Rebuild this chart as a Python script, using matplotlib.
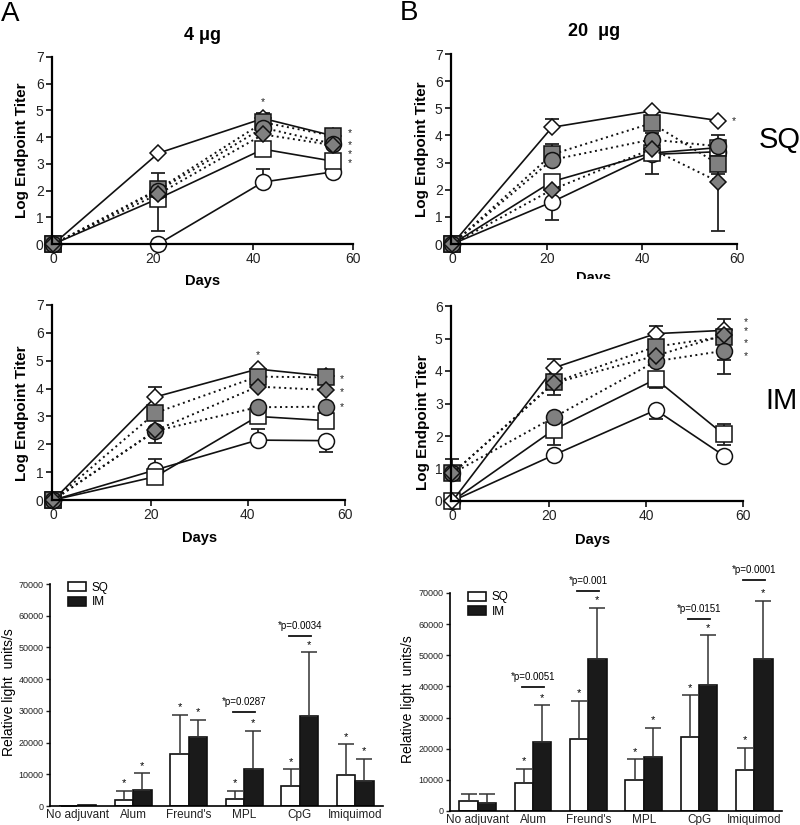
import matplotlib.pyplot as plt
from matplotlib.patches import Rectangle, Patch

plt.rcParams['font.family'] = ['Liberation Sans', 'DejaVu Sans']

# ---- data: log endpoint titers -------------------------------------------
days = [0, 21, 42, 56]
# series order: open circle, open square, open diamond,
#               gray square, gray circle, gray diamond
titer_4_sq = [
    [0, 0.0, 2.32, 2.7],
    [0, 1.7, 3.55, 3.1],
    [0, 3.4, 4.7, 4.05],
    [0, 2.05, 4.55, 4.05],
    [0, 2.0, 4.35, 3.75],
    [0, 1.87, 4.1, 3.7],
]
titer_4_im = [
    [0, 1.08, 2.15, 2.13],
    [0, 0.84, 3.0, 2.85],
    [0, 3.7, 4.7, 4.45],
    [0, 3.13, 4.43, 4.4],
    [0, 2.48, 3.33, 3.35],
    [0, 2.5, 4.07, 3.95],
]
titer_20_sq = [
    [0, 1.55, 3.3, 3.4],
    [0, 2.3, 3.35, 3.55],
    [0, 4.3, 4.9, 4.55],
    [0, 3.3, 4.45, 2.95],
    [0, 3.1, 3.85, 3.6],
    [0, 2.0, 3.5, 2.3],
]
titer_20_im = [
    [0, 1.42, 2.8, 1.4],
    [0, 2.2, 3.75, 2.05],
    [0, 4.1, 5.15, 5.25],
    [0.85, 3.65, 4.75, 5.05],
    [0.85, 2.58, 4.3, 4.62],
    [0.85, 3.63, 4.47, 5.1],
]
# error bar ends: (series, day index, end value)
err_4_sq = [(3, 1, 2.65), (3, 1, 0.47), (3, 2, 4.92), (0, 2, 2.8)]
err_4_im = [(2, 1, 4.04), (4, 1, 2.06), (0, 1, 1.46), (0, 2, 2.54), (0, 3, 1.73)]
err_20_sq = [(2, 1, 4.62), (3, 1, 3.7), (0, 1, 0.88), (4, 2, 4.1), (0, 2, 2.58),
             (4, 3, 4.03), (5, 3, 0.48), (3, 3, 2.58)]
err_20_im = [(3, 0, 1.3), (2, 1, 4.38), (3, 1, 3.25), (4, 1, 1.72), (2, 2, 5.4),
             (1, 2, 3.49), (0, 2, 2.51), (2, 3, 5.59), (4, 3, 3.92), (5, 3, 4.33),
             (1, 3, 2.37), (1, 3, 1.72)]
# significance stars (day, value)
stars_4_sq = [(42, 5.3), (59.3, 4.16), (59.3, 3.71), (59.3, 3.38), (59.3, 3.04)]
stars_4_im = [(42, 5.2), (59.3, 4.34), (59.3, 3.86), (59.3, 3.33)]
stars_20_sq = [(59.3, 4.52)]
stars_20_im = [(60.5, 5.5), (60.5, 5.22), (60.5, 4.87), (60.5, 4.46)]

# ---- data: relative light units -------------------------------------------
categories = ["No adjuvant", "Alum", "Freund's", "MPL", "CpG", "Imiquimod"]
rlu_4_sq = [0, 2000, 16400, 2300, 6200, 9700]
rlu_4_sq_sd = [0, 2700, 12400, 2400, 5400, 9700]
rlu_4_im = [300, 5100, 21700, 11700, 28400, 7800]
rlu_4_im_sd = [0, 5200, 5500, 12100, 20100, 7000]
rlu_20_sq = [3200, 8900, 23000, 10000, 23800, 13100]
rlu_20_sq_sd = [2200, 4700, 12300, 6600, 13400, 7200]
rlu_20_im = [2600, 22000, 48900, 17300, 40300, 48900]
rlu_20_im_sd = [3000, 11900, 16300, 9400, 16100, 18600]
pvals_4 = [(3, "*p=0.0287", 29500), (4, "*p=0.0034", 53700)]
pvals_20 = [(1, "*p=0.0051", 39900), (2, "*p=0.001", 70500),
            (4, "*p=0.0151", 61700), (5, "*p=0.0001", 74300)]
stars_bar_4 = [1, 2, 3, 4, 5]
stars_bar_20 = [1, 2, 3, 4, 5]

GRAY = '#808080'
styles = [
    dict(marker='o', mfc='white', ms=11.5, ls='-'),
    dict(marker='s', mfc='white', ms=11.5, ls='-'),
    dict(marker='D', mfc='white', ms=8, ls='-'),
    dict(marker='s', mfc=GRAY, ms=11.5, ls=':'),
    dict(marker='o', mfc=GRAY, ms=11.5, ls=':'),
    dict(marker='D', mfc=GRAY, ms=8, ls=':'),
]

W, H = 800, 825
def box(l, t, r, b):
    return [l / W, 1 - b / H, (r - l) / W, (b - t) / H]

fig = plt.figure(figsize=(8, 8.25), dpi=100)


def line_panel(rect, data, errs, stars, ymax):
    ax = fig.add_axes(box(*rect))
    for s, e, end in errs:
        y = data[s][e]
        lo, hi = (y - end, 0) if end < y else (0, end - y)
        ax.errorbar([days[e]], [y], yerr=[[lo], [hi]], fmt='none', ecolor='#222',
                    elinewidth=1.3, capsize=5, capthick=1.3, clip_on=False)
    for vals, st in zip(data, styles):
        if st['ls'] == ':':
            ln, = ax.plot(days, vals, color='#111', lw=1.4, ls=(0, (1, 1.8)))
        else:
            ln, = ax.plot(days, vals, color='#111', lw=1.2, ls='-')
        ln.set_clip_on(False)
        ax.plot(days, vals, ls='none', marker=st['marker'], ms=st['ms'],
                mfc=st['mfc'], mec='#111', mew=1.1, clip_on=False)
    for x, y in stars:
        ax.text(x, y, '*', ha='center', va='center', fontsize=7.5, color='#222')
    ax.set_xlim(-0.3, 60)
    ax.set_ylim(0, ymax)
    ax.set_xticks([0, 20, 40, 60])
    ax.set_yticks(range(ymax + 1))
    for sp in ['top', 'right']:
        ax.spines[sp].set_visible(False)
    for sp in ['left', 'bottom']:
        ax.spines[sp].set_linewidth(1.6)
    ax.tick_params(labelsize=10, length=4, width=1.3, pad=2, colors='#222')
    return ax


line_panel((52, 57, 353, 244), titer_4_sq, err_4_sq, stars_4_sq, 7)
line_panel((52, 305, 345, 500), titer_4_im, err_4_im, stars_4_im, 7)
line_panel((451, 54, 737, 244), titer_20_sq, err_20_sq, stars_20_sq, 7)
line_panel((451, 306, 743, 501), titer_20_im, err_20_im, stars_20_im, 6)


def bar_panel(rect, sq, sq_sd, im, im_sd, pvals, star_idx):
    ax = fig.add_axes(box(*rect))
    x = list(range(len(categories)))
    w = 0.33
    xs = [i - w / 2 for i in x]
    xi = [i + w / 2 for i in x]
    ax.bar(xs, sq, w, color='white', edgecolor='#111', lw=1.2, label='SQ')
    ax.bar(xi, im, w, color='#1a1a1a', edgecolor='#111', lw=1.2, label='IM')
    ax.errorbar(xs, sq, yerr=[[0] * len(sq), sq_sd], fmt='none', ecolor='#333',
                elinewidth=1.1, capsize=6, capthick=1.1)
    ax.errorbar(xi, im, yerr=[[0] * len(im), im_sd], fmt='none', ecolor='#333',
                elinewidth=1.1, capsize=6, capthick=1.1)
    for i in star_idx:
        ax.text(xs[i], sq[i] + sq_sd[i] + 800, '*', ha='center', va='bottom', fontsize=8)
        ax.text(xi[i], im[i] + im_sd[i] + 800, '*', ha='center', va='bottom', fontsize=8)
    for i, txt, y in pvals:
        ax.plot([i - 0.2, i + 0.2], [y, y], color='#111', lw=1.3, clip_on=False)
        ax.text(i, y + 1600, txt, ha='center', va='bottom', fontsize=7, clip_on=False)
    ax.set_xlim(-0.5, 5.5)
    ax.set_ylim(0, 70000)
    ax.set_yticks(range(0, 70001, 10000))
    ax.set_xticks(x)
    ax.set_xticklabels(categories)
    for sp in ['top', 'right']:
        ax.spines[sp].set_visible(False)
    for sp in ['left', 'bottom']:
        ax.spines[sp].set_linewidth(1.2)
    ax.tick_params(axis='y', labelsize=6.5, length=3, width=1, pad=1.5, colors='#222')
    ax.tick_params(axis='x', labelsize=8.5, length=0, pad=2, colors='#222')
    ax.legend(handles=[Patch(facecolor='white', edgecolor='#111', lw=1.2, label='SQ'),
                       Patch(facecolor='#1a1a1a', edgecolor='#111', lw=1.2, label='IM')],
              loc='upper left', bbox_to_anchor=(0.04, 1.03), frameon=False,
              fontsize=8.5, handlelength=1.5, handleheight=0.8, labelspacing=0.2,
              handletextpad=0.5, borderaxespad=0)
    return ax


bar_panel((50, 584, 383, 806), rlu_4_sq, rlu_4_sq_sd, rlu_4_im, rlu_4_im_sd,
          pvals_4, stars_bar_4)
bar_panel((450, 593, 782, 811), rlu_20_sq, rlu_20_sq_sd, rlu_20_im, rlu_20_im_sd,
          pvals_20, stars_bar_20)

# ---- figure texts ----------------------------------------------------------
def ftext(x, y, s, **kw):
    return fig.text(x / W, 1 - y / H, s, **kw)

ftext(1, 14, 'A', fontsize=20, va='center', ha='left')
ftext(400, 13, 'B', fontsize=20, va='center', ha='left')
ftext(203, 35, '4 μg', fontsize=13, fontweight='bold', ha='center', va='center')
ftext(594, 32, '20  μg', fontsize=13, fontweight='bold', ha='center', va='center')
for x, y in [(22, 150), (22, 413), (422, 149), (423, 422)]:
    ftext(x, y, 'Log Endpoint Titer', fontsize=11, fontweight='bold', rotation=90,
          ha='center', va='center')
for x, y in [(203, 281), (200, 538), (593, 540)]:
    ftext(x, y, 'Days', fontsize=10.5, fontweight='bold', ha='center', va='center')
t = ftext(594, 278, 'Days', fontsize=10.5, fontweight='bold', ha='center', va='center')
t.set_clip_path(Rectangle((0, 1 - 279 / H), 1, 0.2, transform=fig.transFigure))
ftext(759, 140, 'SQ', fontsize=21, ha='left', va='center')
ftext(765, 401, 'IM', fontsize=21, ha='left', va='center')
ftext(9, 692, 'Relative light  units/s', fontsize=10, rotation=90, ha='center', va='center')
ftext(408, 699, 'Relative light  units/s', fontsize=10, rotation=90, ha='center', va='center')

fig.savefig('out.png', dpi=100)
